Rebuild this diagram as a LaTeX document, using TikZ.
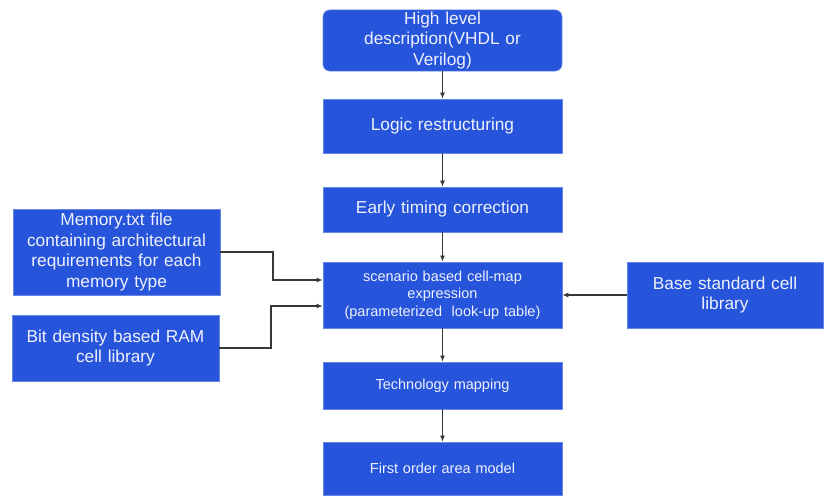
\documentclass[tikz,border=0pt]{standalone}
\usepackage{fontspec}
\setmainfont{Liberation Sans}
\usetikzlibrary{arrows.meta,positioning,calc}

\definecolor{stepblue}{RGB}{38,84,219}
\definecolor{wire}{RGB}{55,55,55}

\begin{document}
\begin{tikzpicture}[
  x=1pt, y=-1pt,
  flow/.style={draw=stepblue!70!white, fill=stepblue, text=white!92!stepblue, align=center,
               inner sep=2pt, line width=0.6pt,
               font=\fontsize{17.3}{20.5}\selectfont},
  mainbox/.style={flow, minimum width=239pt, text width=228pt},
  smallbox/.style={mainbox, font=\fontsize{14.5}{17.5}\selectfont},
  sidebox/.style={flow, minimum width=207pt, text width=203pt},
  arr/.style={-{Latex[length=6pt,width=5pt]}, draw=wire, line width=1.2pt}
]
\useasboundingbox (0,0) rectangle (824,495);

% ---------------- main column ----------------
\node[mainbox, rounded corners=7pt, minimum height=61pt, text width=175pt] (hdl) at (442.5,40.5)
  {High level\\ description(VHDL or\\ Verilog)};
\node[mainbox, minimum height=54pt] (logic) at (442.5,126) {Logic restructuring};
\node[mainbox, minimum height=45pt] (early) at (442.5,209.5) {Early timing correction};
\node[smallbox, minimum height=66pt] (scen) at (442.5,295)
  {scenario based cell-map\\ expression\\ (parameterized\ \ look-up table)};
\node[smallbox, minimum height=47pt] (tech) at (442.5,385.5) {Technology mapping};
\node[smallbox, minimum height=53pt] (area) at (442.5,468.5) {First order area model};

% ---------------- inputs ----------------
\node[sidebox, minimum height=86pt] (mem) at (116.5,252)
  {Memory.txt file\\ containing architectural\\ requirements for each\\ memory type};
\node[sidebox, minimum height=66pt] (ram) at (115.5,348)
  {Bit density based RAM\\ cell library};
\node[flow, minimum width=196pt, minimum height=66pt, text width=188pt] (base) at (725,295)
  {Base standard cell\\ library};

\coordinate (memturn) at (273,280);
\coordinate (ramturn) at (271,306);

% ---------------- arrows ----------------
\draw[arr] (hdl) -- (logic);
\draw[arr] (logic) -- (early);
\draw[arr] (early) -- (scen);
\draw[arr] (scen) -- (tech);
\draw[arr] (tech) -- (area);

\draw[arr] (mem.east) -| (memturn) -- (scen.west |- memturn);
\draw[arr] (ram.east) -| (ramturn) -- (scen.west |- ramturn);
\draw[arr] (base.west) -- (scen.east);

\end{tikzpicture}
\end{document}
